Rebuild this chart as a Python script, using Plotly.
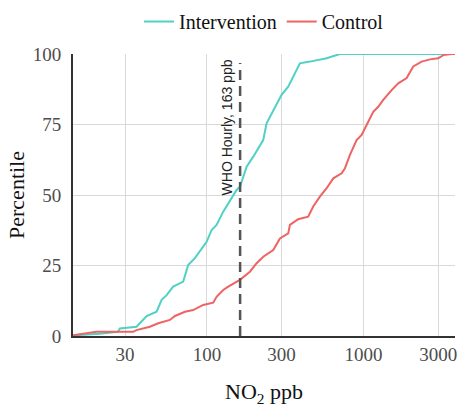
import numpy as np
import plotly.graph_objects as go

# Intervention ECDF (NO2 ppb, percentile)
int_x = [14.0, 20.7, 27.0, 27.8, 35.5, 38.3, 41.2, 47.7, 51.4, 55.3, 60.9, 70.6, 75.9,
         83.8, 92.5, 99.6, 107.2, 115.3, 127.1, 140.3, 154.8, 162.5, 179.4, 197.7, 229,
         240.6, 265.3, 300, 330.6, 355.7, 392.8, 455, 582, 707, 3845]
int_y = [0.2, 0.8, 1.5, 2.7, 3.3, 5.1, 7.1, 8.6, 12.8, 14.5, 17.5, 19.3, 25.2,
         27.6, 31.1, 33.4, 37.6, 39.4, 44.1, 48.2, 51.8, 52.9, 60.0, 63.6, 69.5,
         75.4, 80.1, 85.5, 88.4, 92.0, 96.7, 97.3, 98.5, 100, 100]

# Control ECDF
ctl_x = [14.0, 17.0, 19.7, 33.8, 35.5, 43.2, 48.9, 58.0, 62.5, 72.4, 81.7, 94.7, 109.7,
         115.3, 127.1, 136.8, 154.8, 162.5, 188.2, 207.8, 229, 265.3, 292.7, 330.8, 339,
         383, 443.7, 477.6, 527, 582, 641.5, 725.6, 762, 820, 904.5, 974, 1048, 1155,
         1243, 1338, 1514, 1668, 1888, 2081, 2355, 2661, 3006, 3237, 3662, 3845]
ctl_y = [0.3, 1.0, 1.5, 1.5, 2.1, 3.3, 4.5, 5.7, 7.1, 8.6, 9.2, 11.0, 11.8,
         13.9, 16.3, 17.5, 19.3, 19.9, 22.8, 25.8, 28.1, 30.5, 34.6, 36.4, 39.4,
         41.4, 42.3, 45.9, 49.4, 52.4, 55.9, 57.7, 59.5, 64.2, 69.5, 71.3, 74.8, 79.5,
         81.3, 83.7, 87.2, 89.6, 91.5, 95.6, 97.3, 98.1, 98.5, 99.6, 100, 100]

who_val = 163
who_line_y = [0, 96.8]
x_ticks = [30, 100, 300, 1000, 3000]
y_ticks = [0, 25, 50, 75, 100]

teal = "#4FD1C5"
red = "#EE6363"
serif = "Liberation Serif"

fig = go.Figure()
fig.add_trace(go.Scatter(x=int_x, y=int_y, mode="lines", name="Intervention",
                         line=dict(color=teal, width=2)))
fig.add_trace(go.Scatter(x=ctl_x, y=ctl_y, mode="lines", name="Control",
                         line=dict(color=red, width=2)))
fig.add_trace(go.Scatter(x=[who_val, who_val], y=who_line_y, mode="lines",
                         showlegend=False, hoverinfo="skip",
                         line=dict(color="#555555", width=2.5, dash="10px,6px")))

fig.add_annotation(x=np.log10(who_val), y=74, xref="x", yref="y",
                   text=f"WHO Hourly, {who_val} ppb", textangle=-90,
                   showarrow=False, xshift=-13, xanchor="center", yanchor="middle",
                   font=dict(family="Liberation Sans", size=14, color="#222222"))

fig.update_layout(
    template="none",
    width=458, height=407,
    margin=dict(l=73, r=3, t=54, b=71, autoexpand=False),
    paper_bgcolor="white", plot_bgcolor="white",
    font=dict(family=serif, size=19, color="#111111"),
    legend=dict(orientation="h", x=0.5, xanchor="center", y=0.995, yanchor="top",
                yref="container", font=dict(family=serif, size=20, color="#111111"),
                itemwidth=30, bgcolor="rgba(0,0,0,0)"),
    showlegend=True,
)

fig.update_xaxes(type="log", range=[np.log10(13.95), np.log10(3845)],
                 tickmode="array", tickvals=x_ticks, ticktext=[str(v) for v in x_ticks],
                 showgrid=True, gridcolor="#D9D9D9", gridwidth=1.2,
                 showline=True, linecolor="#333333", linewidth=2,
                 ticks="", tickfont=dict(family=serif, size=19, color="#4D4D4D"),
                 title=dict(text="NO<sub>2</sub> ppb",
                            font=dict(family=serif, size=22, color="#111111"),
                            standoff=26),
                 zeroline=False, automargin=False)
fig.update_yaxes(range=[0, 100], tickmode="array", tickvals=y_ticks,
                 ticktext=[str(v) for v in y_ticks],
                 showgrid=True, gridcolor="#D9D9D9", gridwidth=1.2,
                 showline=True, linecolor="#333333", linewidth=2,
                 ticks="", ticklabelstandoff=6,
                 tickfont=dict(family=serif, size=19, color="#4D4D4D"),
                 title=dict(text="Percentile",
                            font=dict(family=serif, size=22, color="#111111"),
                            standoff=2),
                 zeroline=False, automargin=False)

fig.write_html("out.html", config={"displayModeBar": False},
               post_script="document.body.style.margin='0';document.body.style.padding='0';")
